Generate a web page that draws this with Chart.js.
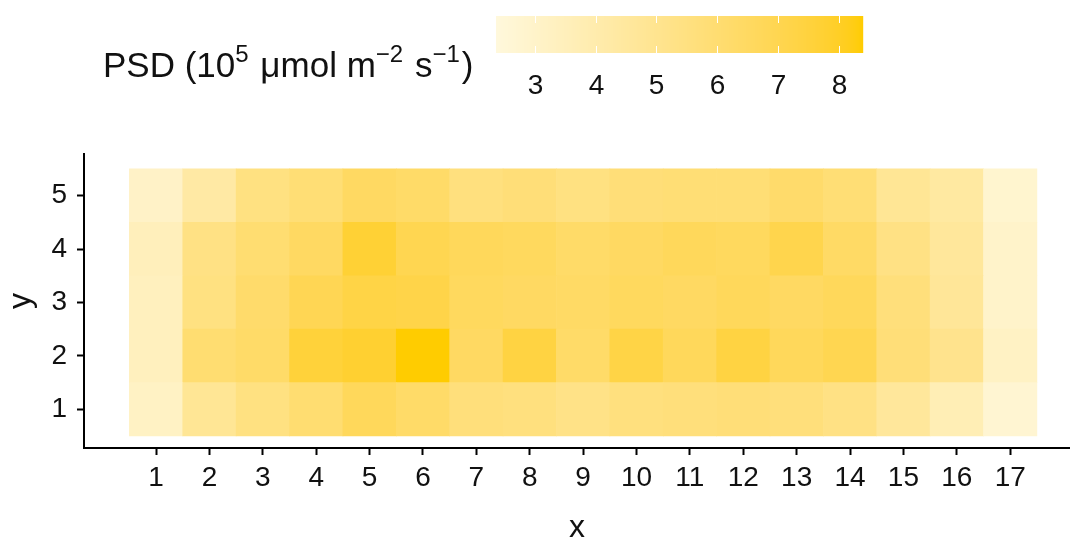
<!DOCTYPE html>
<html>
<head>
<meta charset="utf-8">
<script src="https://cdn.jsdelivr.net/npm/chart.js@4.4.1/dist/chart.umd.min.js"></script>
<style>
  html, body { margin: 0; padding: 0; background: #fff; }
  #wrap { width: 1070px; height: 541px; }
</style>
</head>
<body>
<div id="wrap"><canvas id="heat"></canvas></div>
<script>
// grid positions
var xCats = [1, 2, 3, 4, 5, 6, 7, 8, 9, 10, 11, 12, 13, 14, 15, 16, 17];
var yCats = [1, 2, 3, 4, 5];

// PSD values (10^5 umol m-2 s-1), one array per y row
var psdRow1 = [3.2, 4.8, 5.5, 6.0, 6.7, 6.3, 5.7, 5.6, 5.3, 5.6, 5.7, 5.8, 5.7, 5.4, 4.6, 3.7, 2.7];
var psdRow2 = [3.4, 6.0, 6.3, 7.6, 7.8, 8.4, 6.5, 7.4, 6.3, 7.3, 6.7, 7.4, 6.7, 7.0, 5.8, 5.1, 3.2];
var psdRow3 = [3.4, 5.5, 6.2, 6.9, 7.3, 7.2, 6.6, 6.5, 6.4, 6.6, 6.5, 6.7, 6.5, 6.7, 5.7, 4.7, 3.0];
var psdRow4 = [3.5, 5.4, 6.0, 6.5, 7.7, 7.0, 6.7, 6.6, 6.3, 6.5, 6.7, 6.6, 7.1, 6.4, 5.4, 4.6, 3.0];
var psdRow5 = [3.1, 4.3, 5.5, 5.9, 6.5, 6.3, 5.6, 5.8, 5.5, 5.8, 5.9, 5.9, 6.2, 5.9, 4.8, 4.4, 2.8];
var psdRows = [psdRow1, psdRow2, psdRow3, psdRow4, psdRow5];

var legendTicks = [3, 4, 5, 6, 7, 8];
var psdMin = 2.36;
var psdMax = 8.4;

var lowColor = [255, 248, 220];   // cornsilk
var highColor = [255, 204, 0];    // gold
var fontFamily = '"Liberation Sans", Arial, Helvetica, sans-serif';

// gradient is interpolated in Lab space
function toLab(rgb) {
  var l = rgb.map(function(c) {
    c /= 255;
    return c <= 0.04045 ? c / 12.92 : Math.pow((c + 0.055) / 1.055, 2.4);
  });
  var X = (0.4124 * l[0] + 0.3576 * l[1] + 0.1805 * l[2]) / 0.95047;
  var Y = 0.2126 * l[0] + 0.7152 * l[1] + 0.0722 * l[2];
  var Z = (0.0193 * l[0] + 0.1192 * l[1] + 0.9505 * l[2]) / 1.08883;
  var f = function(t) { return t > 0.008856 ? Math.cbrt(t) : 7.787 * t + 16 / 116; };
  var fx = f(X), fy = f(Y), fz = f(Z);
  return [116 * fy - 16, 500 * (fx - fy), 200 * (fy - fz)];
}
function fromLab(lab) {
  var fy = (lab[0] + 16) / 116, fx = fy + lab[1] / 500, fz = fy - lab[2] / 200;
  var inv = function(t) { var t3 = t * t * t; return t3 > 0.008856 ? t3 : (t - 16 / 116) / 7.787; };
  var X = inv(fx) * 0.95047, Y = inv(fy), Z = inv(fz) * 1.08883;
  var lin = [
    3.2406 * X - 1.5372 * Y - 0.4986 * Z,
    -0.9689 * X + 1.8758 * Y + 0.0415 * Z,
    0.0557 * X - 0.2040 * Y + 1.0570 * Z
  ];
  return lin.map(function(c) {
    var v = c <= 0.0031308 ? 12.92 * c : 1.055 * Math.pow(c, 1 / 2.4) - 0.055;
    return Math.round(Math.max(0, Math.min(1, v)) * 255);
  });
}
var lowLab = toLab(lowColor), highLab = toLab(highColor);

function psdColor(v) {
  var t = (v - psdMin) / (psdMax - psdMin);
  t = Math.max(0, Math.min(1, t));
  var lab = lowLab.map(function(lo, i) { return lo + (highLab[i] - lo) * t; });
  return 'rgb(' + fromLab(lab).join(',') + ')';
}

// one floating-bar dataset per row, each bar spans its row
var datasets = yCats.map(function(yv, r) {
  return {
    data: xCats.map(function(xv) { return { x: xv, y: [yv - 0.5, yv + 0.5] }; }),
    backgroundColor: psdRows[r].map(psdColor),
    borderWidth: 0,
    categoryPercentage: 1,
    barPercentage: 1
  };
});

// colour bar legend with its title
var colorbarPlugin = {
  id: 'colorbar',
  afterDraw: function(chart) {
    var ctx = chart.ctx;
    var bx = 496, by = 16, bw = 367, bh = 37;
    ctx.save();
    for (var i = 0; i < bw; i++) {
      ctx.fillStyle = psdColor(psdMin + (i + 0.5) / bw * (psdMax - psdMin));
      ctx.fillRect(bx + i, by, 1.2, bh);
    }

    ctx.strokeStyle = '#ffffff';
    ctx.lineWidth = 1;
    ctx.fillStyle = '#111';
    ctx.font = '28px ' + fontFamily;
    ctx.textAlign = 'center';
    ctx.textBaseline = 'middle';
    legendTicks.forEach(function(v) {
      var px = Math.round(bx + (v - psdMin) / (psdMax - psdMin) * bw) + 0.5;
      ctx.beginPath();
      ctx.moveTo(px, by); ctx.lineTo(px, by + 7);
      ctx.moveTo(px, by + bh - 7); ctx.lineTo(px, by + bh);
      ctx.stroke();
      ctx.fillText(String(v), px, 86);
    });

    // title with superscripts
    var parts = [
      ['PSD (10', false], ['5', true], [' \u03bcmol m', false], ['\u22122', true],
      [' s', false], ['\u22121', true], [')', false]
    ];
    var x = 103, base = 77;
    ctx.textAlign = 'left';
    ctx.textBaseline = 'alphabetic';
    parts.forEach(function(p) {
      ctx.font = (p[1] ? '24px ' : '35px ') + fontFamily;
      ctx.fillText(p[0], x, p[1] ? base - 15 : base);
      x += ctx.measureText(p[0]).width + (p[1] ? 2 : 0);
    });
    ctx.restore();
  }
};

new Chart(document.getElementById('heat'), {
  type: 'bar',
  data: { labels: xCats, datasets: datasets },
  plugins: [colorbarPlugin],
  options: {
    responsive: true,
    maintainAspectRatio: false,
    animation: false,
    layout: { padding: { top: 154, right: 0, left: 0, bottom: 0 } },
    plugins: { legend: { display: false }, tooltip: { enabled: false } },
    scales: {
      x: {
        type: 'linear',
        stacked: true,
        offset: false,
        min: -0.35,
        max: 18.12,
        afterBuildTicks: function(axis) {
          axis.ticks = xCats.map(function(v) { return { value: v }; });
        },
        afterFit: function(axis) { axis.height = 93; },
        grid: { display: true, drawOnChartArea: false, offset: false, tickLength: 7, tickColor: '#000', tickWidth: 2 },
        border: { display: true, color: '#000', width: 2 },
        ticks: { color: '#111', font: { family: fontFamily, size: 28 }, padding: 6, autoSkip: false, maxRotation: 0 },
        title: { display: true, text: 'x', color: '#111', font: { family: fontFamily, size: 32 }, padding: { top: 4, bottom: -6 } }
      },
      y: {
        type: 'linear',
        min: 0.275,
        max: 5.78,
        afterBuildTicks: function(axis) {
          axis.ticks = yCats.map(function(v) { return { value: v }; });
        },
        afterFit: function(axis) { axis.width = 84; },
        grid: { display: true, drawOnChartArea: false, tickLength: 7, tickColor: '#000', tickWidth: 2 },
        border: { display: true, color: '#000', width: 2 },
        ticks: { color: '#111', font: { family: fontFamily, size: 28 }, padding: 10 },
        title: { display: true, text: 'y', color: '#111', font: { family: fontFamily, size: 32 }, padding: { top: 2, bottom: 0 } }
      }
    }
  }
});
</script>
</body>
</html>
